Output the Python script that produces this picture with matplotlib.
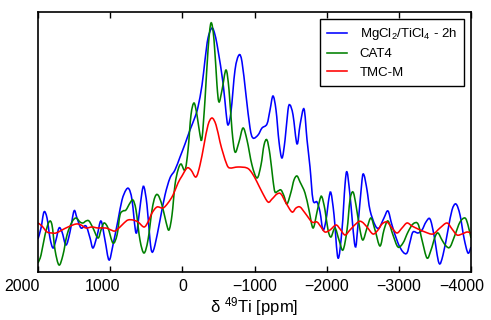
import numpy as np
import matplotlib.pyplot as plt
from matplotlib.path import Path
from matplotlib.patches import PathPatch
from matplotlib.lines import Line2D
from matplotlib.transforms import ScaledTranslation

plt.rcParams['font.family'] = ['Liberation Sans', 'DejaVu Sans']
plt.rcParams['mathtext.fontset'] = 'custom'
plt.rcParams['mathtext.rm'] = 'Liberation Sans'
plt.rcParams['mathtext.it'] = 'Liberation Sans:italic'

# 49Ti shift (ppm) and intensity (arb. units)
ppm_mgcl2 = [2000, 1958, 1917, 1875, 1834, 1792, 1751, 1709, 1667, 1612, 1557, 1501,
             1460, 1404, 1335, 1279, 1238, 1182, 1127, 1072, 1016, 961, 891, 836,
             781, 739, 697, 642, 600, 559, 531, 490, 448, 420, 379, 309, 240, 171,
             102, 32, -37, -106, -176, -217, -273, -314, -356, -411, -453, -494,
             -564, -605, -633, -674, -730, -785, -827, -882, -938, -979, -1049,
             -1104, -1173, -1215, -1256, -1298, -1340, -1381, -1423, -1464, -1492,
             -1534, -1589, -1631, -1686, -1728, -1769, -1811, -1866, -1908, -1949,
             -1991, -2032, -2060, -2102, -2157, -2212, -2254, -2282, -2323, -2393,
             -2434, -2490, -2517, -2559, -2600, -2670, -2725, -2794, -2850, -2905,
             -2988, -3058, -3113, -3155, -3196, -3266, -3321, -3376, -3432, -3487,
             -3556, -3612, -3681, -3737, -3792, -3848, -3903, -3958, -4000]
int_mgcl2 = [33, 44, 60, 54, 34, 24, 32, 44, 40, 27, 40, 61,
             54, 44, 46, 34, 24, 36, 51, 32, 12, 27, 52, 72,
             82, 83, 72, 39, 57, 80, 85, 67, 32, 20, 27, 52, 77, 94,
             102, 115, 128, 142, 155, 165, 187, 212, 234, 244, 237, 222,
             189, 160, 147, 160, 202, 217, 210, 177, 144, 134, 137,
             144, 148, 162, 176, 162, 130, 114, 132, 162, 167,
             157, 128, 147, 163, 132, 105, 72, 70, 60, 42,
             52, 74, 79, 57, 14, 42, 87, 100, 77, 26,
             47, 92, 97, 82, 62, 47, 44, 54, 61, 47,
             29, 20, 19, 30, 40, 39, 42, 50, 53, 37,
             9, 17, 42, 62, 68, 57, 34, 19, 25]

ppm_cat4 = [2000, 1958, 1903, 1848, 1806, 1764, 1709, 1654, 1598, 1529, 1473, 1418,
            1376, 1335, 1293, 1238, 1169, 1127, 1085, 1030, 961, 905, 864, 822,
            781, 725, 684, 642, 587, 531, 476, 420, 379, 337, 282, 226, 185, 143,
            102, 60, 18, -37, -79, -120, -162, -203, -245, -273, -314, -356,
            -397, -439, -480, -508, -550, -605, -647, -688, -730, -785, -841,
            -896, -965, -1035, -1090, -1132, -1173, -1215, -1256, -1284, -1326,
            -1367, -1409, -1450, -1506, -1547, -1589, -1631, -1700, -1755, -1811,
            -1866, -1908, -1935, -1977, -2019, -2060, -2115, -2171, -2226, -2282,
            -2323, -2365, -2406, -2462, -2503, -2559, -2614, -2670, -2739, -2794,
            -2850, -2919, -2988, -3058, -3127, -3196, -3266, -3321, -3390, -3446,
            -3501, -3543, -3598, -3654, -3709, -3778, -3848, -3917, -3958, -4000]
int_cat4 = [9, 17, 37, 50, 47, 22, 7, 17, 37, 50, 54, 50,
            49, 51, 51, 44, 34, 42, 49, 44, 29, 37, 57, 61,
            62, 69, 72, 62, 32, 19, 32, 62, 75, 77, 67, 50, 42, 57,
            87, 102, 108, 102, 122, 157, 169, 157, 137, 134, 172, 222,
            249, 232, 187, 170, 182, 202, 182, 142, 120, 130, 144,
            132, 107, 94, 107, 127, 132, 117, 92, 80, 81,
            82, 76, 68, 80, 92, 96, 90, 79, 62, 44,
            60, 73, 75, 62, 42, 35, 44, 32, 22, 42,
            72, 80, 67, 42, 32, 44, 54, 42, 26, 42,
            51, 37, 25, 29, 40, 48, 48, 32, 14, 22,
            35, 39, 32, 26, 25, 37, 50, 54, 47, 34]

ppm_tmcm = [2000, 1945, 1875, 1806, 1751, 1667, 1584, 1473, 1404, 1335, 1252, 1169,
            1058, 988, 933, 864, 808, 753, 684, 614, 531, 476, 420, 351, 268,
            199, 129, 60, 5, -65, -120, -189, -245, -300, -356, -411, -467, -522,
            -564, -619, -661, -771, -896, -965, -1035, -1104, -1187, -1243, -1312,
            -1367, -1437, -1520, -1575, -1631, -1700, -1797, -1866, -1922, -1977,
            -2046, -2129, -2185, -2254, -2323, -2434, -2490, -2559, -2642, -2711,
            -2767, -2836, -2905, -2975, -3044, -3113, -3182, -3266, -3363, -3473,
            -3570, -3667, -3737, -3806, -3875, -3945, -4000]
int_tmcm = [49, 46, 40, 39, 39, 42, 45, 48, 47, 44, 45, 44,
            44, 42, 41, 45, 49, 52, 52, 50, 45, 50, 59, 65, 64,
            69, 77, 89, 96, 104, 102, 95, 107, 127, 147, 154, 147, 130,
            119, 107, 104, 105, 104, 99, 90, 80, 70, 73, 78,
            78, 69, 60, 64, 65, 59, 50, 50, 45, 40,
            42, 47, 43, 37, 42, 50, 50, 45, 38, 42,
            48, 50, 44, 39, 44, 49, 46, 43, 40, 38,
            44, 49, 43, 37, 38, 40, 39]

series = [(ppm_mgcl2, int_mgcl2, '#0000ff', r'MgCl$_2$/TiCl$_4$ - 2h'),
          (ppm_cat4, int_cat4, '#008000', 'CAT4'),
          (ppm_tmcm, int_tmcm, '#ff0000', 'TMC-M')]


def smooth_path(x, y):
    # smooth curve through the read points (Catmull-Rom as cubic Bezier segments)
    p = np.column_stack([x, y]).astype(float)
    q = np.vstack([p[0], p, p[-1]])
    verts = [p[0]]
    codes = [Path.MOVETO]
    for i in range(1, len(q) - 2):
        c1 = q[i] + (q[i + 1] - q[i - 1]) / 6
        c2 = q[i + 1] - (q[i + 2] - q[i]) / 6
        verts += [c1, c2, q[i + 1]]
        codes += [Path.CURVE4] * 3
    return Path(verts, codes)


fig = plt.figure(figsize=(4.91, 3.2), dpi=100)
ax = fig.add_axes([38/491, 48/320, 433/491, 260/320])

handles = []
for x, y, c, lab in series:
    ax.add_patch(PathPatch(smooth_path(x, y), fill=False, edgecolor=c, lw=1.15))
    handles.append(Line2D([], [], color=c, lw=1.15, label=lab))

ax.set_xlim(2000, -4000)
ax.set_ylim(0, 260)
ax.set_xticks([2000, 1000, 0, -1000, -2000, -3000, -4000])
ax.set_yticks([])
ax.tick_params(axis='x', direction='in', top=True, length=4, width=1, labelsize=11.5, pad=5)
for s in ax.spines.values():
    s.set_linewidth(1.2)

# end labels sit a little to the left in the original
shifts = {0: -16, 1: -8, 6: -9}
for i, lab in enumerate(ax.get_xticklabels()):
    if i in shifts:
        lab.set_transform(lab.get_transform() + ScaledTranslation(shifts[i] / 100, 0, fig.dpi_scale_trans))

ax.set_xlabel(r'δ $^{49}$Ti [ppm]', fontsize=12, labelpad=1)

leg = ax.legend(handles=handles, loc='upper right', bbox_to_anchor=(0.984, 0.973), borderaxespad=0,
                fontsize=9.5, fancybox=False, edgecolor='black', framealpha=1,
                handlelength=1.5, handletextpad=1.0, labelspacing=0.45, borderpad=0.55)
leg.get_frame().set_linewidth(1.0)

fig.savefig('out.png', dpi=100)
